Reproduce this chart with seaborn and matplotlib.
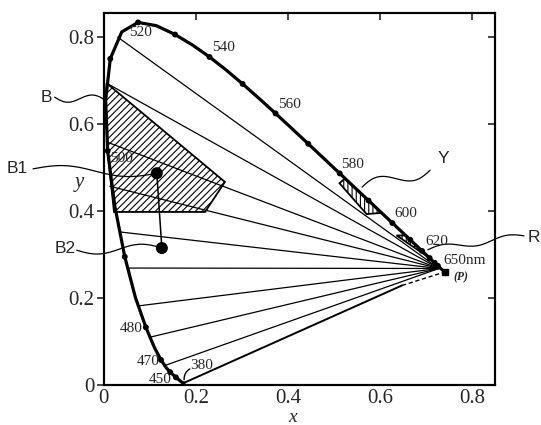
import numpy as np
import pandas as pd
import matplotlib
matplotlib.use('Agg')
import matplotlib.pyplot as plt
import seaborn as sns

# Spectral locus (CIE 1931 chromaticity), wavelength in nm
wl = [380, 400, 420, 430, 440, 450, 460, 465, 470, 475, 480, 485, 490, 495,
      500, 505, 510, 515, 520, 525, 530, 535, 540, 545, 550, 555, 560, 565,
      570, 575, 580, 585, 590, 595, 600, 605, 610, 620, 630, 640, 650, 660,
      680, 700]
loc_x = [0.1741, 0.1733, 0.1714, 0.1689, 0.1644, 0.1566, 0.1440, 0.1355,
         0.1241, 0.1096, 0.0913, 0.0687, 0.0454, 0.0235, 0.0082, 0.0039,
         0.0139, 0.0389, 0.0743, 0.1142, 0.1547, 0.1929, 0.2296, 0.2658,
         0.3016, 0.3373, 0.3731, 0.4087, 0.4441, 0.4788, 0.5125, 0.5448,
         0.5752, 0.6029, 0.6270, 0.6482, 0.6658, 0.6915, 0.7079, 0.7190,
         0.7260, 0.7300, 0.7334, 0.7347]
loc_y = [0.0050, 0.0048, 0.0051, 0.0069, 0.0109, 0.0177, 0.0297, 0.0399,
         0.0578, 0.0868, 0.1327, 0.2007, 0.2950, 0.4127, 0.5384, 0.6548,
         0.7502, 0.8120, 0.8338, 0.8262, 0.8059, 0.7816, 0.7543, 0.7243,
         0.6923, 0.6589, 0.6245, 0.5896, 0.5547, 0.5202, 0.4866, 0.4544,
         0.4242, 0.3965, 0.3725, 0.3514, 0.3340, 0.3083, 0.2920, 0.2809,
         0.2740, 0.2700, 0.2666, 0.2653]

# wavelengths marked with a small dot
dot_wl = [450, 460, 470, 480, 490, 500, 510, 520, 530, 540, 550, 560, 570,
          580, 590, 600, 610, 620, 630, 640, 650]

# confusion lines: start on the locus, all meet near the red end
fan_x = [0.030, 0.006, 0.006, 0.013, 0.035, 0.052, 0.075, 0.100, 0.130]
fan_y = [0.800, 0.694, 0.559, 0.457, 0.352, 0.269, 0.182, 0.110, 0.044]
meet_x, meet_y = 0.728, 0.268

# purple line (solid part) and dashed part to the copunctal point P
purple_x = [0.174, 0.648]
purple_y = [0.005, 0.229]
p_x, p_y = 0.741, 0.260

# hatched regions B, Y, R
b_x = [0.006, 0.263, 0.220, 0.022, 0.008, 0.004]
b_y = [0.694, 0.467, 0.398, 0.398, 0.538, 0.655]
yr_x = [0.512, 0.524, 0.604, 0.571]
yr_y = [0.464, 0.475, 0.396, 0.393]
rr_x = [0.636, 0.656, 0.708]
rr_y = [0.344, 0.344, 0.292]

# points B1 and B2
pts_x = [0.115, 0.126]
pts_y = [0.487, 0.315]

# wavelength labels
lab_text = ['520', '540', '560', '580', '600', '620', '650nm',
            '500', '480', '470', '450', '380']
lab_x = [0.080, 0.260, 0.404, 0.541, 0.657, 0.724, 0.785,
         0.039, 0.059, 0.096, 0.122, 0.213]
lab_y = [0.811, 0.777, 0.644, 0.506, 0.395, 0.329, 0.287,
         0.522, 0.131, 0.053, 0.012, 0.046]

# region labels and their wavy leader lines (label, label pos, leader from, leader to)
tag_text = ['B', 'B1', 'B2', 'Y', 'R']
tag_x = [-0.124, -0.189, -0.083, 0.737, 0.935]
tag_y = [0.662, 0.499, 0.315, 0.520, 0.340]
lead_x0 = [-0.107, -0.154, -0.059, 0.561, 0.704]
lead_y0 = [0.662, 0.497, 0.310, 0.455, 0.311]
lead_x1 = [0.003, 0.115, 0.126, 0.709, 0.913]
lead_y1 = [0.655, 0.487, 0.315, 0.494, 0.343]
lead_amp = [-0.010, 0.010, -0.010, 0.014, 0.007]
lead_waves = [1.0, 1.0, 1.0, 1.0, 1.5]

sns.set_style('white')
plt.rcParams['font.family'] = ['Liberation Serif', 'DejaVu Serif']
plt.rcParams['hatch.linewidth'] = 0.8

fig = plt.figure(figsize=(5.41, 4.25), dpi=100)
ax = fig.add_axes([0.192, 0.094, 0.723, 0.875])

# locus
locus = pd.DataFrame({'x': loc_x, 'y': loc_y})
sns.lineplot(data=locus, x='x', y='y', sort=False, estimator=None,
             color='black', lw=2.3, ax=ax)
dots = locus[[w in dot_wl for w in wl]]
sns.scatterplot(data=dots, x='x', y='y', color='black', s=18, ax=ax,
                edgecolor='none', zorder=4)

# confusion lines
for fx, fy in zip(fan_x, fan_y):
    ax.plot([fx, meet_x], [fy, meet_y], color='black', lw=0.9)
ax.plot(purple_x, purple_y, color='black', lw=1.4)
ax.plot([purple_x[1], p_x], [purple_y[1], p_y], color='black', lw=1.0,
        ls=(0, (3, 2)))
ax.plot([p_x], [p_y], marker='s', ms=4.5, color='black')

# hatched regions
ax.fill(b_x, b_y, facecolor='none', edgecolor='black', hatch='/////', lw=1.3)
ax.fill(yr_x, yr_y, facecolor='none', edgecolor='black', hatch='||||', lw=1.3)
ax.fill(rr_x, rr_y, facecolor='none', edgecolor='black', hatch='||||', lw=1.3)

# B1, B2
pts = pd.DataFrame({'x': pts_x, 'y': pts_y})
sns.scatterplot(data=pts, x='x', y='y', color='black', s=75, ax=ax,
                edgecolor='none', zorder=5)
ax.plot(pts_x, pts_y, color='black', lw=1.1)

# wavelength labels
for t, lx, ly in zip(lab_text, lab_x, lab_y):
    ax.text(lx, ly, t, fontsize=11, ha='center', va='center')
ax.text(0.776, 0.248, '(P)', fontsize=8.5, style='italic', weight='bold',
        ha='center', va='center')
ax.annotate('', xy=(0.175, 0.006), xytext=(0.192, 0.040),
            arrowprops=dict(arrowstyle='-', connectionstyle='arc3,rad=0.4',
                            lw=1.0, color='black'))

# region labels with wavy leaders
for t, tx, ty, x0, y0, x1, y1, a, n in zip(tag_text, tag_x, tag_y, lead_x0,
                                           lead_y0, lead_x1, lead_y1,
                                           lead_amp, lead_waves):
    s = np.linspace(0, 1, 60)
    dx, dy = x1 - x0, y1 - y0
    ln = np.hypot(dx, dy)
    nx, ny = -dy / ln, dx / ln
    off = a * np.sin(2 * np.pi * n * s)
    ax.plot(x0 + dx * s + nx * off, y0 + dy * s + ny * off, color='black',
            lw=0.9, clip_on=False)
    ax.text(tx, ty, t, fontsize=12.5, ha='center', va='center',
            family=['Liberation Sans Narrow', 'Liberation Sans'])

ax.set_xlim(0, 0.85)
ax.set_ylim(0, 0.855)
ax.set_xticks([0, 0.2, 0.4, 0.6, 0.8])
ax.set_xticklabels(['0', '0.2', '0.4', '0.6', '0.8'])
ax.set_yticks([0, 0.2, 0.4, 0.6, 0.8])
ax.set_yticklabels(['0', '0.2', '0.4', '0.6', '0.8'])
ax.tick_params(axis='x', direction='in', top=True, length=5, width=1.2,
               labelsize=15, pad=3)
ax.tick_params(axis='y', direction='out', left=True, length=5, width=1.2,
               labelsize=15, pad=2)
ax2 = ax.twinx()
ax2.set_ylim(ax.get_ylim())
ax2.set_yticks([0.2, 0.4, 0.6, 0.8])
ax2.tick_params(axis='y', direction='in', length=5, width=1.2,
                labelright=False)
ax.set_xlabel('')
ax.set_ylabel('')
for a_ in (ax, ax2):
    for sp in a_.spines.values():
        sp.set_linewidth(1.5)
        sp.set_color('black')

ax.text(0.41, -0.088, 'x', transform=ax.get_xaxis_transform(), fontsize=14,
        style='italic', ha='center', va='center')
ax.text(-0.062, 0.465, 'y', transform=ax.get_yaxis_transform(), fontsize=15,
        style='italic', ha='center', va='center')

fig.savefig('out.png', dpi=100)
